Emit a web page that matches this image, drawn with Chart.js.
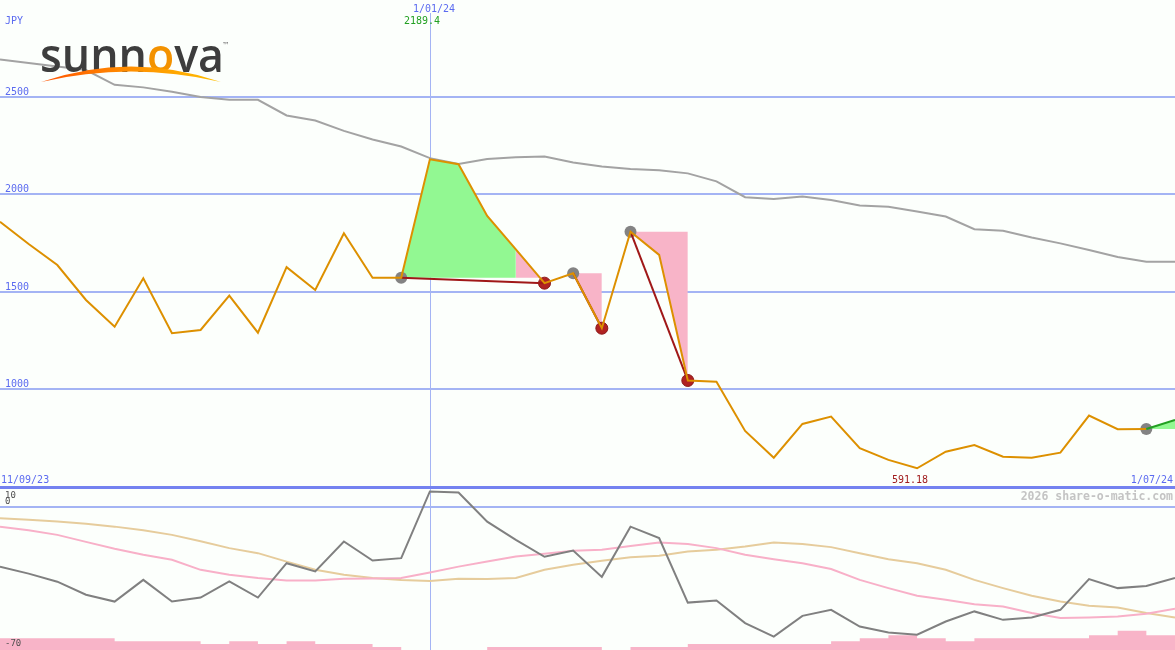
<!DOCTYPE html>
<html lang="en">
<head>
<meta charset="UTF-8">
<title>SNVA weekly - share-o-matic</title>
<script src="https://cdn.jsdelivr.net/npm/chart.js"></script>
<style>
    body { margin: 0; padding: 0; background: #fcfffc; }
    #wrap { width: 1175px; height: 650px; overflow: hidden; }
    canvas { display: block; }
</style>
</head>
<body>
<div id="wrap"><canvas id="chart" width="1175" height="650"></canvas></div>
<script>
// weekly closes, 18/09/23 .. 1/07/24
const weeks = ['18/09/23','25/09/23','2/10/23','9/10/23','16/10/23','23/10/23','30/10/23','6/11/23','13/11/23','20/11/23',
    '27/11/23','4/12/23','11/12/23','18/12/23','25/12/23','1/01/24','8/01/24','15/01/24','22/01/24','29/01/24',
    '5/02/24','12/02/24','19/02/24','26/02/24','4/03/24','11/03/24','18/03/24','25/03/24','1/04/24','8/04/24',
    '15/04/24','22/04/24','29/04/24','6/05/24','13/05/24','20/05/24','27/05/24','3/06/24','10/06/24','17/06/24',
    '24/06/24','1/07/24'];
const close = [1860,1746,1638,1459,1322,1570,1288,1305,1481,1291,
    1627,1510,1801,1573,1573,2180,2155,1890,1718,1545,
    1596,1314,1809,1690,1046,1040,787,650,823,861,
    699,639,596,681,715,655,650,676,866,796,
    797,844];
const avg40 = [2692,2674,2656,2638,2562,2549,2527,2500,2486,2485,
    2405,2379,2326,2282,2246,2186,2156,2182,2191,2194,
    2164,2143,2131,2124,2108,2067,1986,1977,1989,1972,
    1943,1937,1913,1887,1822,1814,1779,1749,1715,1679,
    1655,1655];
// lower panel
const oscLine = [-29.5,-33,-37,-43.5,-46.9,-36.1,-46.9,-44.9,-36.9,-44.9,
    -27.8,-31.9,-17,-26.5,-25.3,7.9,7.4,-7.1,-16.2,-24.6,
    -21.5,-34.6,-9.6,-15.3,-47.4,-46.4,-57.6,-64.3,-54,-51,
    -59.3,-62.3,-63.4,-56.8,-51.8,-56,-54.8,-51,-35.7,-40.2,
    -39.1,-35.2];
const oscFast = [-9.6,-11.4,-13.7,-17.2,-20.6,-23.6,-26.1,-31.1,-33.6,-35.2,
    -36.4,-36.4,-35.6,-35.4,-35.2,-32.4,-29.5,-27,-24.5,-23.1,
    -21.6,-21.1,-19.2,-17.5,-18.2,-20.3,-23.6,-25.8,-27.8,-30.7,
    -36.1,-40.2,-44,-46,-48.2,-49.4,-52.6,-55.1,-54.8,-54.3,
    -53,-50.5];
const oscSlow = [-5.4,-6.2,-7.1,-8.2,-9.6,-11.4,-13.7,-16.9,-20.3,-22.8,
    -27,-31.1,-33.6,-35.2,-36.1,-36.6,-35.6,-35.7,-35.2,-31.1,
    -28.6,-26.6,-24.8,-24.1,-22,-21.1,-19.5,-17.5,-18.2,-19.8,
    -22.8,-25.8,-27.8,-31.1,-36.1,-40.2,-44,-46.9,-49,-49.9,
    -52.6,-54.8];
const volume = [4,4,4,4,3,3,3,2,3,2,
    3,2,2,1,0,0,0,1,1,1,
    1,0,1,1,2,2,2,2,2,3,
    4,5,4,3,4,4,4,4,5,6.5,
    5,5];
const priceTicks = [2500, 2000, 1500, 1000];
const priceFloor = 500;
const oscTicks = [10, 0, -70];
// trades (week index)
const tradeEntry = [14, 20, 22, 40];
const tradeExit = [19, 21, 24, null];
const zoneFrom = [14, 18, 20, 22, 40];
const zoneTo = [18, 19, 21, 24, 41];
const zoneTrade = [0, 0, 1, 2, 3];
const zoneGain = [true, false, false, false, true];
const periodHigh = 2189.4, highWeek = 15;
const periodLow = 591.18, lowWeek = 32;
const rangeStart = '11/09/23';
const currency = 'JPY';
const brand = '2026 share-o-matic.com';

const C = {
    bg: '#fcfffc', grid: '#a4b4f4', frame: '#7482f0', label: '#5b6bf0',
    hi: '#22a022', lo: '#a01c1c', brand: '#c4c4c4', oscLabel: '#505050',
    close: '#dd9000', avg: '#a3a3a3', trade: '#a01818', open: '#22a022',
    gain: '#92f892', loss: '#f8b4c8', vol: '#f8b4c8',
    osc: '#808080', fast: '#f8b0c8', slow: '#e6cc9c'
};

const openK = tradeExit.findIndex(v => v === null);
const openEntry = openK >= 0 ? tradeEntry[openK] : Infinity;

const deco = {
    id: 'deco',
    beforeDraw(chart) {
        const { ctx, width, height } = chart;
        ctx.save();
        ctx.fillStyle = C.bg;
        ctx.fillRect(0, 0, width, height);
        ctx.restore();
    },
    beforeDatasetsDraw(chart) {
        const { ctx, width, height, scales } = chart;
        ctx.save();
        ctx.fillStyle = C.grid;
        priceTicks.forEach(v => {
            const py = Math.round(scales.y.getPixelForValue(v));
            ctx.fillRect(0, py - 1, width, 2);
        });
        const oz = Math.round(scales.y2.getPixelForValue(0));
        ctx.fillRect(0, oz - 1, width, 2);
        const vx = Math.round(scales.x.getPixelForValue(highWeek));
        ctx.fillRect(vx, 13, 1, height);
        ctx.fillStyle = C.frame;
        const fb = Math.round(scales.y.getPixelForValue(priceFloor));
        ctx.fillRect(0, fb - 1, width, 3);
        ctx.restore();
    },
    afterDatasetsDraw(chart) {
        const { ctx, width, scales } = chart;
        const fb = Math.round(scales.y.getPixelForValue(priceFloor));
        const vx = Math.round(scales.x.getPixelForValue(highWeek));
        ctx.save();
        ctx.textBaseline = 'alphabetic';
        ctx.font = '10px "DejaVu Sans Mono"';
        ctx.fillStyle = C.label;
        ctx.textAlign = 'left';
        ctx.fillText(currency, 5, 24);
        priceTicks.forEach(v => ctx.fillText(String(v), 5, Math.round(scales.y.getPixelForValue(v)) - 2));
        ctx.fillText(rangeStart, 1, fb - 4);
        ctx.textAlign = 'right';
        ctx.fillText(weeks[weeks.length - 1], width - 2, fb - 4);
        ctx.textAlign = 'center';
        ctx.fillText(weeks[highWeek], vx + 4, 12);
        ctx.fillStyle = C.hi;
        ctx.fillText(periodHigh.toFixed(1), vx - 8, 24);
        ctx.fillStyle = C.lo;
        ctx.fillText(periodLow.toFixed(2), scales.x.getPixelForValue(lowWeek) - 7, fb - 4);
        // oscillator labels
        ctx.font = '9px "DejaVu Sans Mono"';
        ctx.fillStyle = C.oscLabel;
        ctx.textAlign = 'left';
        ctx.fillText(String(oscTicks[0]), 5, 498);
        ctx.fillText(String(oscTicks[1]), 5, 504);
        ctx.fillText(String(oscTicks[2]), 5, Math.round(scales.y2.getPixelForValue(oscTicks[2])) - 2);
        // brand
        ctx.font = 'bold 11.5px "DejaVu Sans Mono"';
        ctx.fillStyle = C.brand;
        ctx.textAlign = 'right';
        ctx.fillText(brand, width - 2, fb + 13);
        // logo
        ctx.textAlign = 'left';
        ctx.font = '600 47px "Open Sans"';
        const parts = [['sunn', '#3d3d3d'], ['o', '#f39200'], ['va', '#3d3d3d']];
        const full = ctx.measureText('sunnova').width;
        ctx.save();
        ctx.translate(40, 71.5);
        ctx.scale(184 / full, 1);
        let lx = 0;
        parts.forEach(([t, col]) => {
            ctx.fillStyle = col;
            ctx.fillText(t, lx, 0);
            lx += ctx.measureText(t).width;
        });
        ctx.restore();
        ctx.font = '8px "DejaVu Sans"';
        ctx.fillStyle = '#777';
        ctx.fillText('\u2122', 222, 48);
        const g = ctx.createLinearGradient(41, 0, 221, 0);
        g.addColorStop(0, '#ff5000');
        g.addColorStop(0.45, '#ff8a00');
        g.addColorStop(1, '#ffc000');
        ctx.fillStyle = g;
        ctx.beginPath();
        ctx.moveTo(41, 82);
        ctx.quadraticCurveTo(131, 51, 221, 82);
        ctx.quadraticCurveTo(131, 61, 41, 82);
        ctx.closePath();
        ctx.fill();
        ctx.restore();
    }
};

const datasets = [];
datasets.push({ data: volume, yAxisID: 'yv', stepped: 'before', fill: 'start', backgroundColor: C.vol,
    borderColor: 'transparent', borderWidth: 0, pointRadius: 0, order: 30 });
datasets.push({ data: oscSlow, yAxisID: 'y2', borderColor: C.slow, borderWidth: 2, pointRadius: 0, fill: false, order: 29 });
datasets.push({ data: oscFast, yAxisID: 'y2', borderColor: C.fast, borderWidth: 2, pointRadius: 0, fill: false, order: 28 });
datasets.push({ data: oscLine, yAxisID: 'y2', borderColor: C.osc, borderWidth: 2, pointRadius: 0, fill: false, order: 27 });
zoneFrom.forEach((f, k) => {
    datasets.push({
        data: close.map((v, i) => (i >= f && i <= zoneTo[k]) ? v : null),
        yAxisID: 'y', fill: { value: close[tradeEntry[zoneTrade[k]]] },
        backgroundColor: zoneGain[k] ? C.gain : C.loss,
        borderColor: 'transparent', borderWidth: 0, pointRadius: 0, order: 20
    });
});
datasets.push({ data: avg40, yAxisID: 'y', borderColor: C.avg, borderWidth: 2, pointRadius: 0, fill: false, order: 15 });
datasets.push({ data: close.map((v, i) => tradeEntry.includes(i) ? v : null), yAxisID: 'y', showLine: false,
    pointRadius: 6, pointBackgroundColor: '#838383', pointBorderWidth: 0, order: 12 });
datasets.push({ data: close.map((v, i) => tradeExit.includes(i) ? v : null), yAxisID: 'y', showLine: false,
    pointRadius: 6, pointBackgroundColor: '#b02222', pointBorderColor: '#8c1a1a', pointBorderWidth: 1, order: 12 });
tradeEntry.forEach((e, k) => {
    if (tradeExit[k] === null) return;
    datasets.push({ data: close.map((v, i) => (i === e || i === tradeExit[k]) ? v : null), yAxisID: 'y',
        spanGaps: true, borderColor: C.trade, borderWidth: 2, pointRadius: 0, fill: false, order: 11 });
});
datasets.push({ data: close, yAxisID: 'y', borderColor: C.close, borderWidth: 2, pointRadius: 0, fill: false, order: 10,
    segment: { borderColor: c => c.p0DataIndex >= openEntry ? C.open : undefined } });

new Chart(document.getElementById('chart'), {
    type: 'line',
    data: { labels: weeks, datasets: datasets },
    options: {
        responsive: false,
        animation: false,
        events: [],
        layout: { padding: 0, autoPadding: false },
        elements: { line: { tension: 0 }, point: { radius: 0 } },
        plugins: { legend: { display: false }, tooltip: { enabled: false } },
        scales: {
            x: { type: 'category', display: false, offset: false },
            y: { display: false, min: -336, max: 2997 },
            y2: { display: false, min: -71, max: 252.5 },
            yv: { display: false, min: 0, max: 220 }
        }
    },
    plugins: [deco]
});
</script>
</body>
</html>
